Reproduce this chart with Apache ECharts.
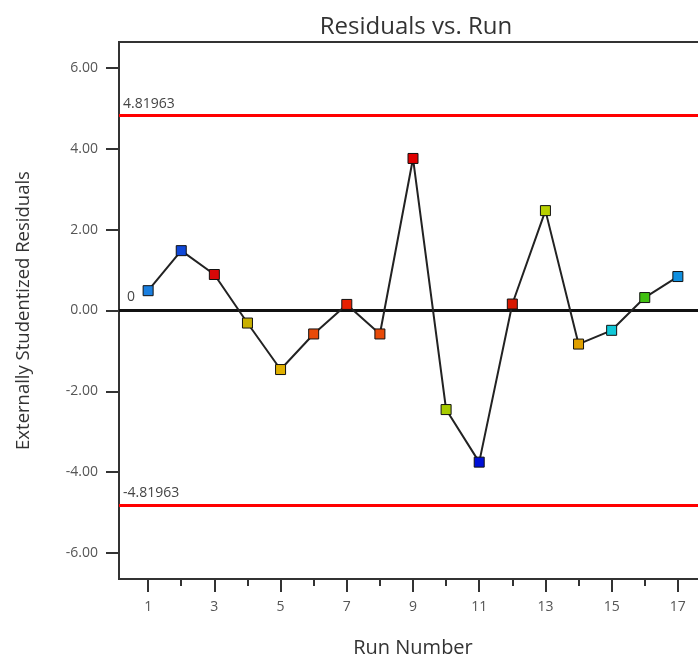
<!DOCTYPE html>
<html>
<head>
<meta charset="utf-8">
<script src="https://cdn.jsdelivr.net/npm/echarts@6/dist/echarts.min.js"></script>
<style>html,body{margin:0;padding:0;background:#fff}#c{width:698px;height:662px}</style>
</head>
<body>
<div id="c"></div>
<script>
var runs = [1,2,3,4,5,6,7,8,9,10,11,12,13,14,15,16,17];
var residuals = [0.49,1.48,0.89,-0.31,-1.46,-0.58,0.15,-0.58,3.76,-2.45,-3.75,0.16,2.47,-0.83,-0.49,0.32,0.84];
var pointColors = ['#1a7fe0','#1048d8','#d80808','#c8b000','#e0b000','#e84a08','#e82000','#e84a08','#e00000',
                   '#a8cc00','#0010d8','#d81800','#b8d000','#e0a000','#10c8d8','#40c010','#1090e0'];
var yTicks = [-6,-4,-2,0,2,4,6];
var xMajorTicks = [1,3,5,7,9,11,13,15,17];
var xMinorTicks = [2,4,6,8,10,12,14,16];
var upperLimit = 4.81963;
var lowerLimit = -4.81963;

var chart = echarts.init(document.getElementById('c'));
var font = '"Open Sans", "Noto Sans", sans-serif';
var seriesData = runs.map(function(r, i){
  return {value:[r, residuals[i]], itemStyle:{color:pointColors[i]}};
});
chart.setOption({
  animation:false,
  backgroundColor:'#fff',
  title:{text:'Residuals vs. Run', left:411, top:10, textAlign:'center',
    textStyle:{fontFamily:font, fontSize:24, fontWeight:'normal', color:'#333'}},
  grid:{left:119, top:42, bottom:83, width:588, outerBoundsMode:'none',
    show:true, borderColor:'#333', borderWidth:2, backgroundColor:'transparent'},
  xAxis:[{
    type:'value', min:0.12, max:17.88,
    name:'Run Number', nameLocation:'middle', nameGap:59,
    nameTextStyle:{fontFamily:font, fontSize:20, color:'#333'},
    axisLine:{show:true, onZero:false, lineStyle:{color:'#333', width:2}},
    axisTick:{show:true, length:13, lineStyle:{color:'#333', width:2}, customValues:xMajorTicks},
    axisLabel:{fontFamily:font, fontSize:14, color:'#555', margin:21, customValues:xMajorTicks},
    splitLine:{show:false}
  },{
    type:'value', min:0.12, max:17.88, position:'bottom',
    axisLine:{show:false, onZero:false},
    axisTick:{show:true, length:7, lineStyle:{color:'#333', width:2}, customValues:xMinorTicks},
    axisLabel:{show:false},
    splitLine:{show:false}
  }],
  yAxis:{
    type:'value', min:-6.64, max:6.64,
    name:'Externally Studentized Residuals', nameLocation:'middle', nameGap:86,
    nameTextStyle:{fontFamily:font, fontSize:18.5, color:'#333'},
    axisLine:{show:true, onZero:false, lineStyle:{color:'#333', width:2}},
    axisTick:{show:true, length:13, lineStyle:{color:'#333', width:2}, customValues:yTicks},
    axisLabel:{fontFamily:font, fontSize:14, color:'#555', margin:21, customValues:yTicks,
      formatter:function(v){return v.toFixed(2);}},
    splitLine:{show:false}
  },
  series:[{
    type:'line', data:seriesData, xAxisIndex:0,
    symbol:'rect', symbolSize:10,
    lineStyle:{color:'#222', width:2},
    itemStyle:{borderColor:'#111', borderWidth:1},
    z:5,
    markLine:{
      silent:true, symbol:'none', animation:false,
      data:[
        {yAxis:upperLimit, lineStyle:{color:'#ff0000', width:3, type:'solid'},
          label:{formatter:String(upperLimit)}},
        {yAxis:0, lineStyle:{color:'#111', width:3, type:'solid'},
          label:{formatter:'0', distance:[8,6]}},
        {yAxis:lowerLimit, lineStyle:{color:'#ff0000', width:3, type:'solid'},
          label:{formatter:String(lowerLimit)}}
      ],
      label:{position:'insideStartTop', fontFamily:font, fontSize:14, color:'#444', distance:[4,5]}
    }
  }]
});
</script>
</body>
</html>
